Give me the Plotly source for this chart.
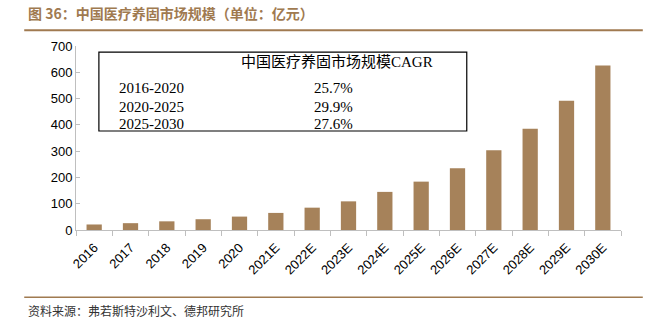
import plotly.graph_objects as go

categories = ["2016", "2017", "2018", "2019", "2020", "2021E", "2022E", "2023E",
              "2024E", "2025E", "2026E", "2027E", "2028E", "2029E", "2030E"]
values = [21, 26, 33, 41, 51, 65, 85, 109, 145, 184, 235, 303, 385, 492, 626]

table_header = "中国医疗养固市场规模CAGR"
table_periods = ["2016-2020", "2020-2025", "2025-2030"]
table_cagr = ["25.7%", "29.9%", "27.6%"]

title_text = "图 36：中国医疗养固市场规模（单位：亿元）"
source_text = "资料来源：弗若斯特沙利文、德邦研究所"

BAR = "#A6825A"
BROWN = "#A07A50"
AXIS = "#BFBFBF"

fig = go.Figure()
fig.add_trace(go.Bar(x=categories, y=values, marker=dict(color=BAR, line=dict(width=0)),
                     width=0.42))

fig.update_layout(
    width=648, height=325,
    margin=dict(l=76, r=27, t=46, b=95),
    plot_bgcolor="white", paper_bgcolor="white",
    showlegend=False,
    font=dict(family="Liberation Sans, Arial", size=13, color="#000"),
)
fig.update_yaxes(range=[0, 700], dtick=100, showgrid=False, zeroline=False,
                 showline=True, linecolor=AXIS, linewidth=1,
                 ticks="inside", ticklen=4, tickcolor=AXIS,
                 tickfont=dict(size=13, color="#000"))
fig.update_xaxes(showgrid=False, showline=True, linecolor=AXIS, linewidth=1,
                 ticks="outside", tickson="boundaries", ticklen=5, tickcolor=AXIS,
                 tickangle=-45, ticklabelstandoff=4, tickfont=dict(size=13, color="#000"))

# title / footer
fig.add_annotation(text="<b>" + title_text + "</b>", xref="paper", yref="paper",
                   x=-0.092, y=1.18, xanchor="left", yanchor="middle", showarrow=False,
                   font=dict(family="Noto Sans CJK SC", size=14, color=BROWN))
fig.add_shape(type="line", xref="paper", yref="paper", x0=-0.095, x1=1.04,
              y0=1.085, y1=1.085, line=dict(color=BROWN, width=2))
fig.add_shape(type="line", xref="paper", yref="paper", x0=-0.095, x1=1.04,
              y0=-0.365, y1=-0.365, line=dict(color=BROWN, width=1.5))
fig.add_annotation(text=source_text, xref="paper", yref="paper",
                   x=-0.092, y=-0.435, xanchor="left", yanchor="middle", showarrow=False,
                   font=dict(family="Noto Sans CJK SC", size=12, color="#333"))

# CAGR table
fig.add_shape(type="rect", xref="paper", yref="paper", x0=0.042, x1=0.717,
              y0=0.538, y1=0.967, line=dict(color="#000", width=1.2), fillcolor="white")
serif = "Liberation Serif, Times New Roman, Noto Sans CJK SC"
fig.add_annotation(text=table_header, xref="paper", yref="paper", x=0.478, y=0.915,
                   xanchor="center", yanchor="middle", showarrow=False,
                   font=dict(family=serif, size=15, color="#000"))
row_y = [0.77, 0.67, 0.575]
for p, c, yy in zip(table_periods, table_cagr, row_y):
    fig.add_annotation(text=p, xref="paper", yref="paper", x=0.075, y=yy,
                       xanchor="left", yanchor="middle", showarrow=False,
                       font=dict(family=serif, size=15, color="#000"))
    fig.add_annotation(text=c, xref="paper", yref="paper", x=0.472, y=yy,
                       xanchor="center", yanchor="middle", showarrow=False,
                       font=dict(family=serif, size=15, color="#000"))

fig.write_html("out.html")
